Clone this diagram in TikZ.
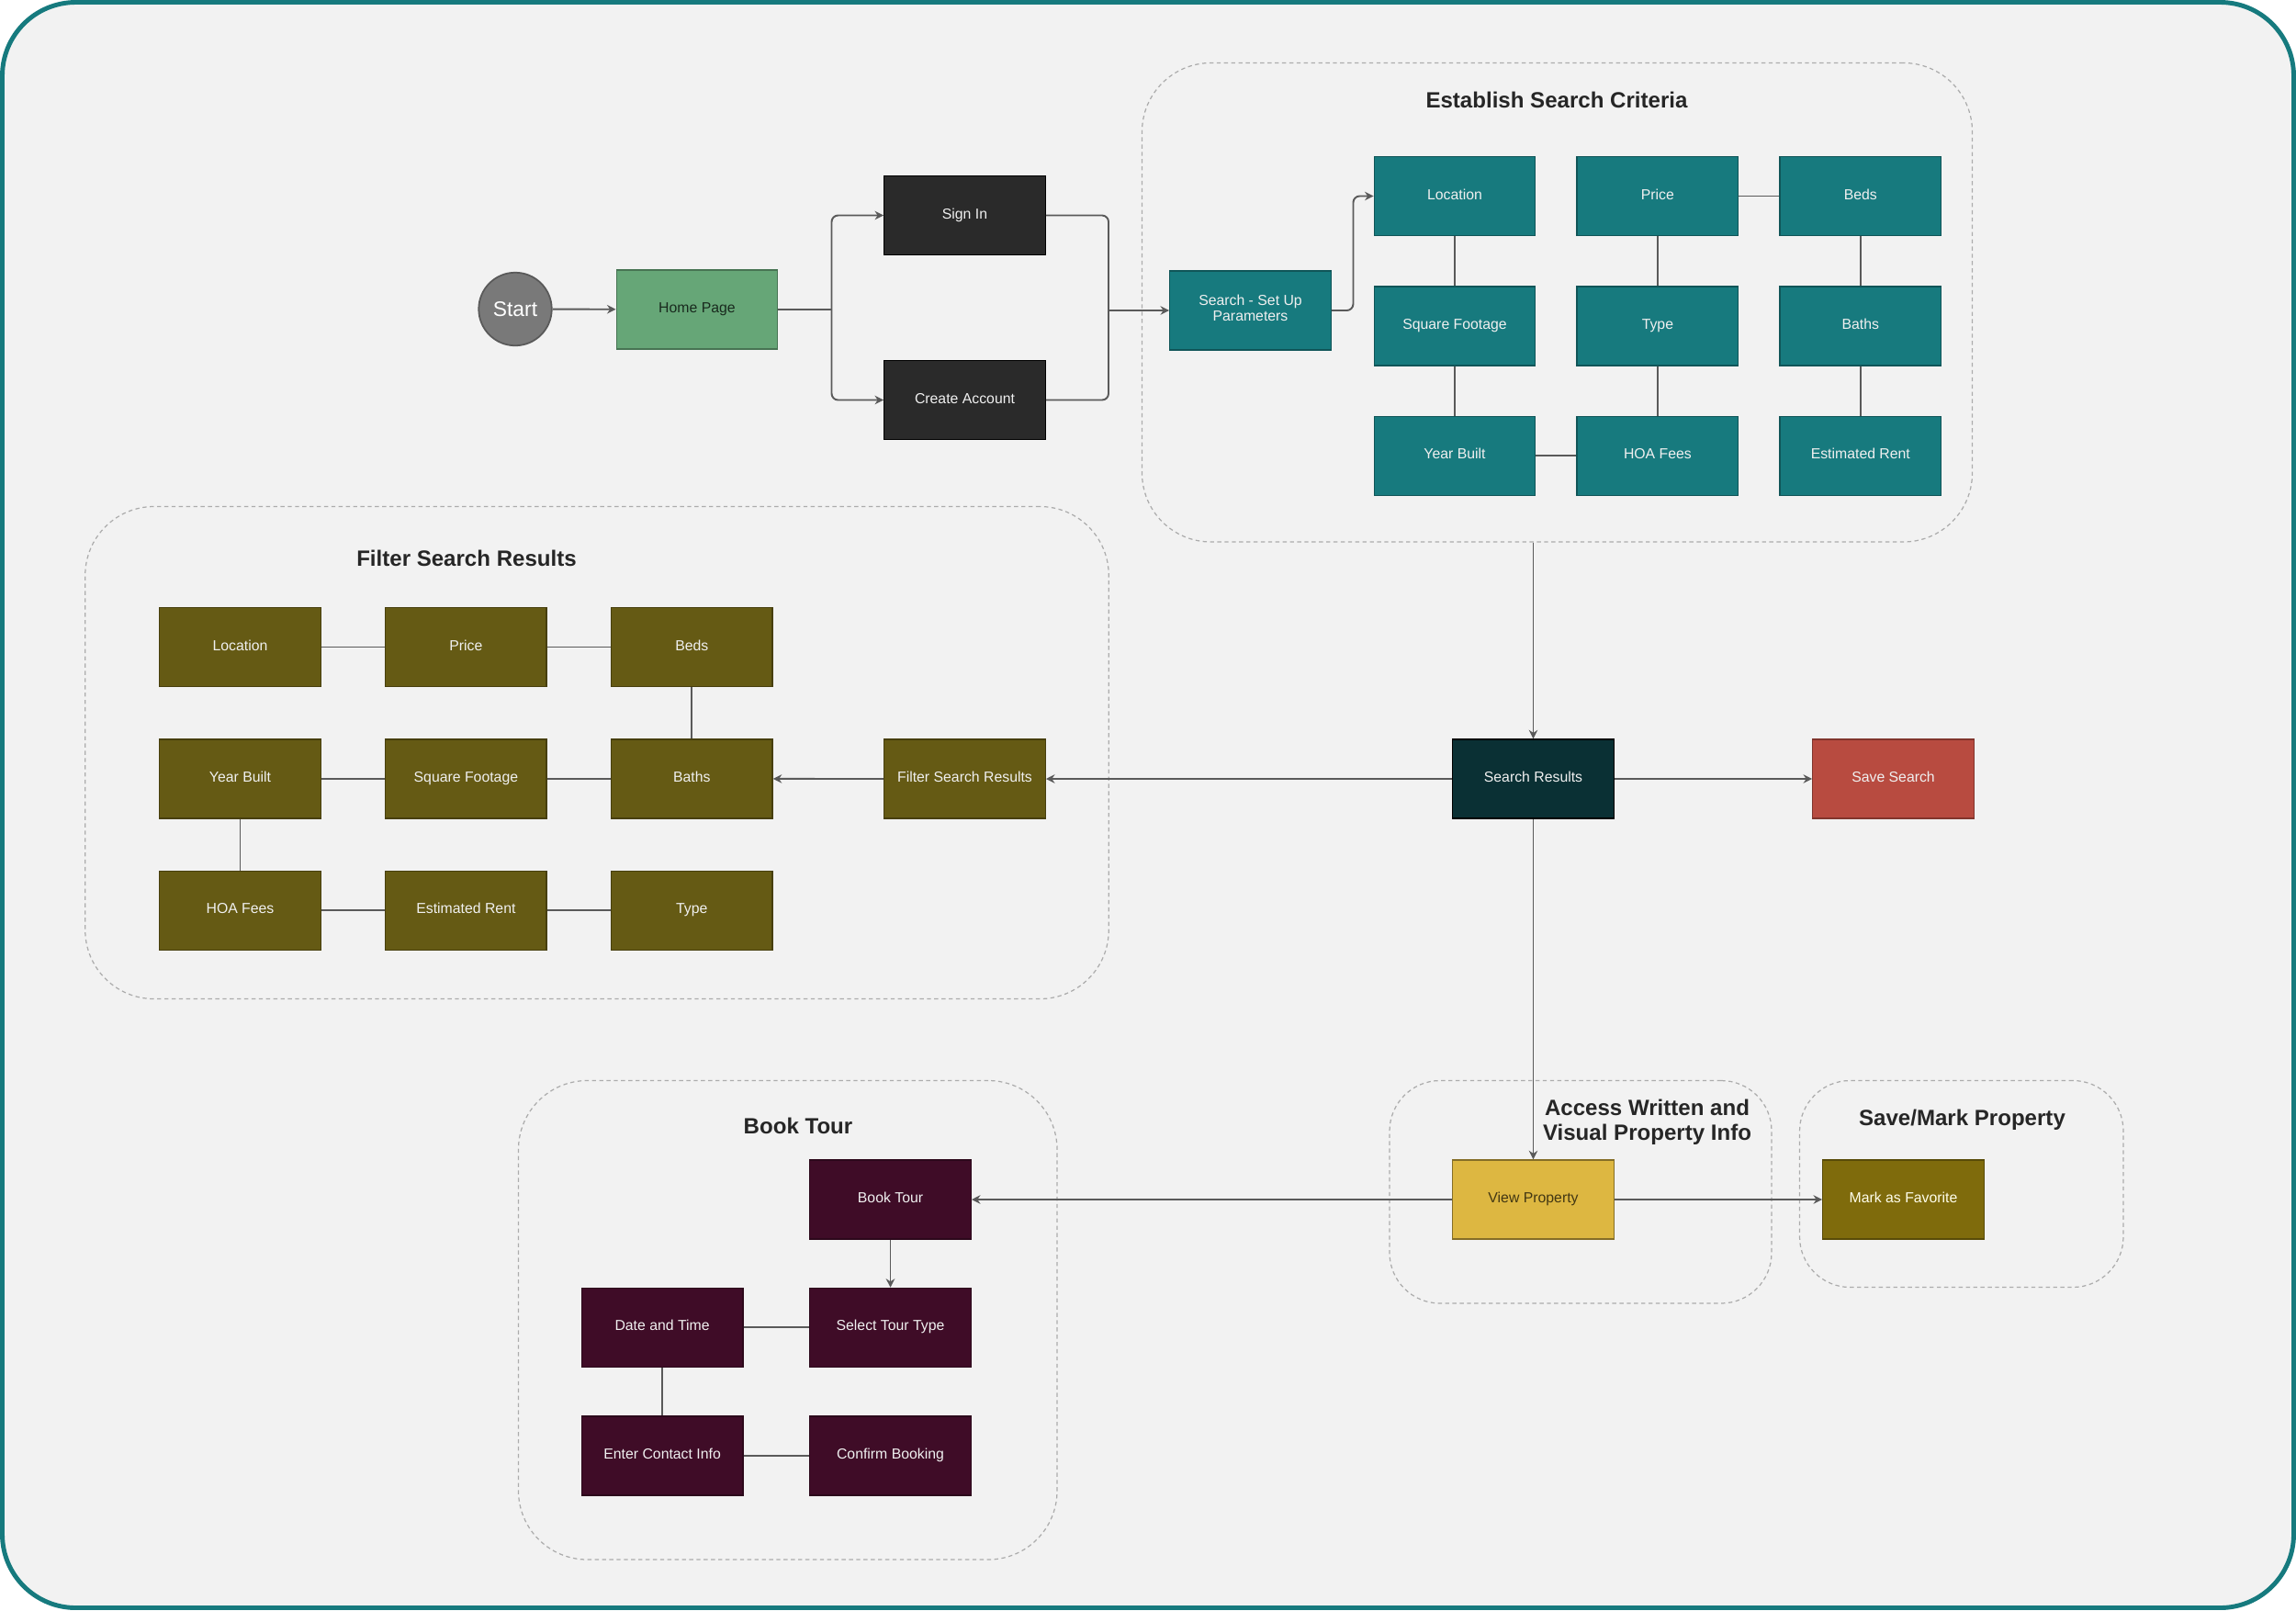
\documentclass[tikz,border=0pt]{standalone}
\usepackage{fontspec}
\setmainfont{Liberation Sans}
\usetikzlibrary{arrows.meta,positioning}

\definecolor{framecol}{HTML}{167A7E}
\definecolor{pagebg}{HTML}{F2F2F2}
\definecolor{critcol}{HTML}{177A7E}
\definecolor{filtcol}{HTML}{655A14}
\definecolor{tourcol}{HTML}{3F0C27}
\definecolor{signcol}{HTML}{2A2A2A}
\definecolor{homecol}{HTML}{66A677}
\definecolor{rescol}{HTML}{0A3034}
\definecolor{savecol}{HTML}{B84B40}
\definecolor{viewcol}{HTML}{DDB741}
\definecolor{favcol}{HTML}{7F6B0C}
\definecolor{linecol}{HTML}{5A5A5A}

\begin{document}
\begin{tikzpicture}[
  block/.style={draw, line width=0.8pt, minimum width=3.51cm, minimum height=1.72cm,
    align=center, inner sep=2pt, text=white!94!black,
    font=\fontsize{9}{10}\selectfont,
    execute at begin node=\strut, execute at end node=\strut},
  crit/.style={block, fill=critcol, draw=critcol!70!black},
  filt/.style={block, fill=filtcol, draw=filtcol!70!black},
  tour/.style={block, fill=tourcol, draw=tourcol!70!black},
  group/.style={draw=gray!65, line width=0.7pt, dash pattern=on 2.5pt off 2pt,
    rounded corners=1.5cm},
  grouptitle/.style={font=\fontsize{13.7}{15.5}\selectfont\bfseries, align=center,
    text=black!85},
  arrow/.style={-{Stealth[length=1.9mm, width=1.9mm]}, draw=linecol, line width=1.1pt},
  link/.style={draw=linecol, line width=1.1pt}
]
\useasboundingbox (0,0) rectangle (50,-35.06);
\draw[draw=framecol, fill=pagebg, line width=2.8pt, rounded corners=1.6cm]
  (0.05,-0.05) rectangle (49.95,-35.01);

% groups
\node[group, minimum width=18.08cm, minimum height=10.43cm] (esc) at (33.91,-6.585) {};
\node[grouptitle] (esctitle) at (33.90,-2.17) {Establish Search Criteria};
\node[group, minimum width=22.29cm, minimum height=10.72cm] (fsr) at (13.0,-16.39) {};
\node[grouptitle] (fsrtitle) at (10.16,-12.15) {Filter Search Results};
\node[group, rounded corners=1.1cm, minimum width=8.32cm, minimum height=4.85cm] (access) at (34.42,-25.955) {};
\node[grouptitle] (accesstitle) at (35.87,-24.43) {Access Written and\\Visual Property Info};
\node[group, rounded corners=1.1cm, minimum width=7.05cm, minimum height=4.5cm] (savemark) at (42.715,-25.78) {};
\node[grouptitle] (savemarktitle) at (42.73,-24.39) {Save/Mark Property};
\node[group, minimum width=11.73cm, minimum height=10.43cm] (booking) at (17.155,-28.745) {};
\node[grouptitle] (bookingtitle) at (17.38,-24.52) {Book Tour};

% sign in flow
\node[circle, fill=gray!95!black, draw=black!65, line width=1pt, minimum size=1.59cm,
  text=white, font=\fontsize{13}{15}\selectfont] (start) at (11.22,-6.73) {Start};
\node[block, fill=homecol, draw=homecol!70!black, text=black!75!homecol] (home) at (15.18,-6.74) {Home Page};
\node[block, fill=signcol, draw=black] (signin) at (21.01,-4.69) {Sign In};
\node[block, fill=signcol, draw=black] (create) at (21.01,-8.71) {Create Account};
\node[crit] (setup) at (27.23,-6.76) {Search - Set Up\\Parameters};
\coordinate (split) at (18.11,-6.74);
\coordinate (join) at (24.14,-6.76);

% search criteria
\node[crit] (crloc) at (31.68,-4.27) {Location};
\node[crit, right=0.88cm of crloc] (crprice) {Price};
\node[crit, right=0.88cm of crprice] (crbeds) {Beds};
\node[crit, below=1.08cm of crloc] (crsqft) {Square Footage};
\node[crit, below=1.08cm of crprice] (crtype) {Type};
\node[crit, below=1.08cm of crbeds] (crbaths) {Baths};
\node[crit, below=1.08cm of crsqft] (cryear) {Year Built};
\node[crit, below=1.08cm of crtype] (crhoa) {HOA Fees};
\node[crit, below=1.08cm of crbaths] (crrent) {Estimated Rent};

% results
\node[block, fill=rescol, draw=black] (sres) at (33.39,-16.96) {Search Results};
\node[block, fill=savecol, draw=savecol!70!black] (savesearch) at (41.23,-16.96) {Save Search};
\node[filt] (filter) at (21.01,-16.96) {Filter Search Results};

% filters
\node[filt] (ftloc) at (5.23,-14.09) {Location};
\node[filt, right=1.38cm of ftloc] (ftprice) {Price};
\node[filt, right=1.38cm of ftprice] (ftbeds) {Beds};
\node[filt, below=1.12cm of ftloc] (ftyear) {Year Built};
\node[filt, below=1.12cm of ftprice] (ftsqft) {Square Footage};
\node[filt, below=1.12cm of ftbeds] (ftbaths) {Baths};
\node[filt, below=1.12cm of ftyear] (fthoa) {HOA Fees};
\node[filt, below=1.12cm of ftsqft] (ftrent) {Estimated Rent};
\node[filt, below=1.12cm of ftbaths] (fttype) {Type};

% property
\node[block, fill=viewcol, draw=viewcol!60!black, text=black!70!viewcol] (view) at (33.39,-26.12) {View Property};
\node[block, fill=favcol, draw=favcol!70!black, text=yellow!8] (fav) at (41.45,-26.12) {Mark as Favorite};

% tour
\node[tour] (tbook) at (19.39,-26.12) {Book Tour};
\node[tour, below=1.04cm of tbook] (ttype) {Select Tour Type};
\node[tour, left=1.43cm of ttype] (tdate) {Date and Time};
\node[tour, below=1.04cm of tdate] (tcontact) {Enter Contact Info};
\node[tour, right=1.43cm of tcontact] (tconfirm) {Confirm Booking};

\draw[arrow] (start) -- (home);
\draw[link] (home) -- (split);
\draw[arrow, rounded corners=4pt] (split) |- (signin);
\draw[arrow, rounded corners=4pt] (split) |- (create);
\draw[link, rounded corners=4pt] (signin) -| (join);
\draw[link, rounded corners=4pt] (create) -| (join);
\draw[arrow] (join) -- (setup);
\draw[arrow, rounded corners=4pt] (setup.east) -- ++(0.47,0) |- (crloc.west);

\draw[link] (crloc) -- (crsqft);
\draw[link] (crsqft) -- (cryear);
\draw[link] (crprice) -- (crtype);
\draw[link] (crtype) -- (crhoa);
\draw[link] (cryear) -- (crhoa);
\draw[link] (crprice) -- (crbeds);
\draw[link] (crbeds) -- (crbaths);
\draw[link] (crbaths) -- (crrent);

\draw[arrow] (sres |- esc.south) -- (sres);
\draw[arrow] (sres) -- (savesearch);
\draw[arrow] (sres) -- (filter);
\draw[arrow] (filter) -- (ftbaths);

\draw[link] (ftloc) -- (ftprice);
\draw[link] (ftprice) -- (ftbeds);
\draw[link] (ftbeds) -- (ftbaths);
\draw[link] (ftyear) -- (ftsqft);
\draw[link] (ftsqft) -- (ftbaths);
\draw[link] (ftyear) -- (fthoa);
\draw[link] (fthoa) -- (ftrent);
\draw[link] (ftrent) -- (fttype);

\draw[arrow] (sres) -- (view);
\draw[arrow] (view) -- (fav);
\draw[arrow] (view) -- (tbook);

\draw[arrow] (tbook) -- (ttype);
\draw[link] (tdate) -- (ttype);
\draw[link] (tdate) -- (tcontact);
\draw[link] (tcontact) -- (tconfirm);
\end{tikzpicture}
\end{document}
